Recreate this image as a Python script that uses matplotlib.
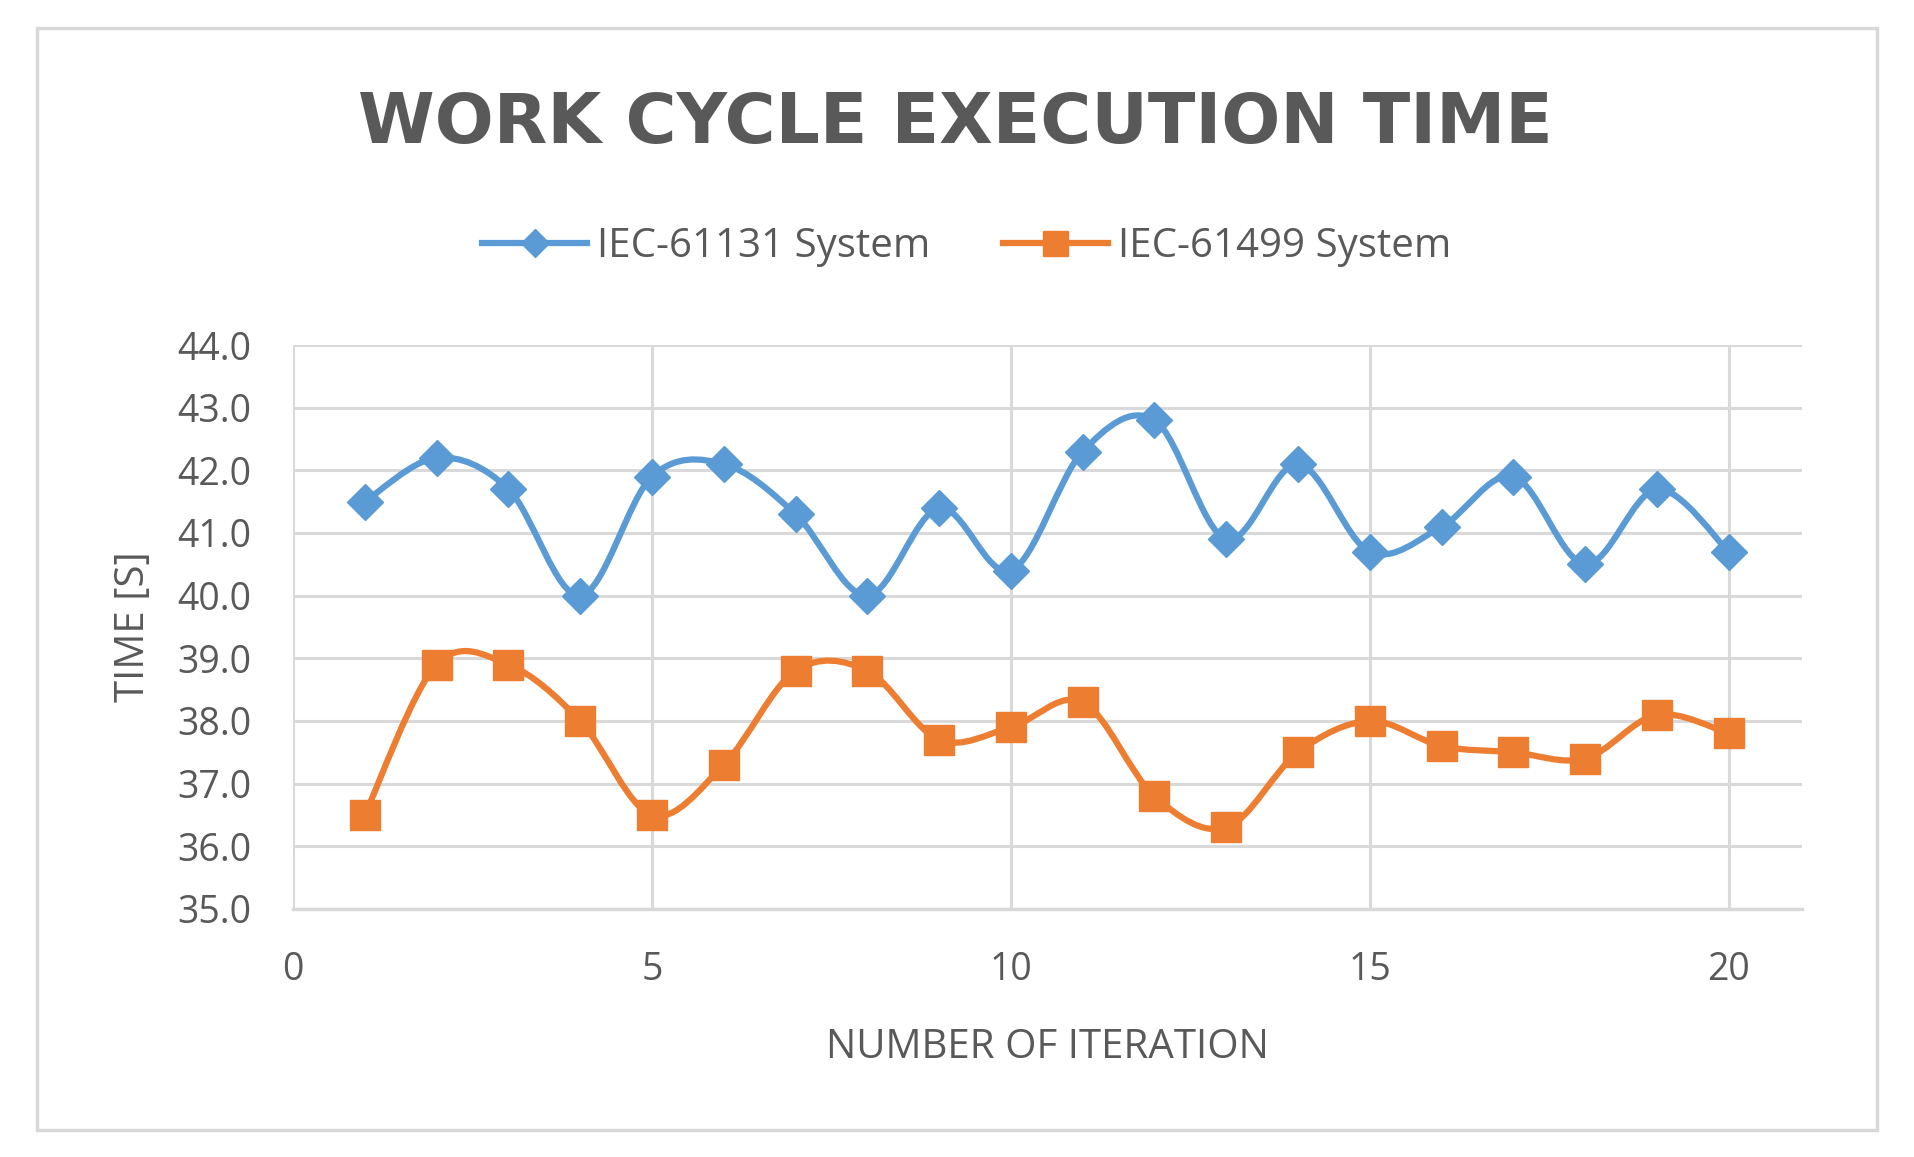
import numpy as np
import matplotlib.pyplot as plt
from matplotlib.path import Path
from matplotlib.patches import PathPatch, Rectangle
from matplotlib.lines import Line2D

iterations = list(range(1, 21))
iec61131 = [41.5, 42.2, 41.7, 40.0, 41.9, 42.1, 41.3, 40.0, 41.4, 40.4,
            42.3, 42.8, 40.9, 42.1, 40.7, 41.1, 41.9, 40.5, 41.7, 40.7]
iec61499 = [36.5, 38.9, 38.9, 38.0, 36.5, 37.3, 38.8, 38.8, 37.7, 37.9,
            38.3, 36.8, 36.3, 37.5, 38.0, 37.6, 37.5, 37.4, 38.1, 37.8]
series_names = ["IEC-61131 System", "IEC-61499 System"]
x_ticks = [0, 5, 10, 15, 20]
y_ticks = [35, 36, 37, 38, 39, 40, 41, 42, 43, 44]

blue = "#5B9BD5"
orange = "#ED7D31"
grid_c = "#D9D9D9"
text_c = "#595959"
font = "Open Sans"


def smooth_path(xs, ys):
    # excel-like smoothed line: cubic bezier through the points (catmull-rom)
    pts = np.column_stack([xs, ys]).astype(float)
    verts = [pts[0]]
    codes = [Path.MOVETO]
    n = len(pts)
    for i in range(n - 1):
        p0 = pts[i - 1] if i > 0 else pts[i]
        p1 = pts[i]
        p2 = pts[i + 1]
        p3 = pts[i + 2] if i + 2 < n else pts[i + 1]
        c1 = p1 + (p2 - p0) / 6.0
        c2 = p2 - (p3 - p1) / 6.0
        verts += [c1, c2, p2]
        codes += [Path.CURVE4] * 3
    return Path(verts, codes)


fig = plt.figure(figsize=(19.14, 11.57), dpi=100)
fig.patches.append(Rectangle((37 / 1914, 1 - 1130 / 1157), 1840 / 1914, 1102 / 1157,
                             transform=fig.transFigure, fill=False,
                             edgecolor=grid_c, linewidth=2.5))

ax = fig.add_axes([0.1531, 0.2144, 0.7884, 0.4874])
ax.set_xlim(0, 21.02)
ax.set_ylim(35, 44)
ax.set_xticks(x_ticks)
ax.set_yticks(y_ticks)
ax.set_yticklabels([f"{v:.1f}" for v in y_ticks])
ax.grid(True, color=grid_c, linewidth=2.2)
ax.set_axisbelow(True)
for s in ["top", "right", "left"]:
    ax.spines[s].set_visible(False)
ax.spines["bottom"].set_color(grid_c)
ax.spines["bottom"].set_linewidth(2.5)
ax.tick_params(length=0, labelsize=27, labelcolor=text_c)
ax.tick_params(axis="y", pad=30)
ax.tick_params(axis="x", pad=30)
for lab in ax.get_xticklabels() + ax.get_yticklabels():
    lab.set_fontfamily(font)

ax.add_patch(PathPatch(smooth_path(iterations, iec61131), fill=False,
                       edgecolor=blue, linewidth=4.5, zorder=3))
ax.plot(iterations, iec61131, linestyle="none", marker="D", markersize=18,
        color=blue, zorder=4)
ax.add_patch(PathPatch(smooth_path(iterations, iec61499), fill=False,
                       edgecolor=orange, linewidth=4.5, zorder=3))
ax.plot(iterations, iec61499, linestyle="none", marker="s", markersize=21,
        color=orange, zorder=4)

ax.set_xlabel("NUMBER OF ITERATION", fontsize=29, color=text_c,
              family=font, labelpad=28)
ax.set_ylabel("TIME [S]", fontsize=29, color=text_c, family=font, labelpad=17)

fig.text(0.499, 1 - 124 / 1157, "WORK CYCLE EXECUTION TIME", ha="center",
         va="center", fontsize=50, fontweight="bold", color=text_c,
         family="DejaVu Sans")

handles = [Line2D([], [], color=blue, linewidth=4.5, marker="D", markersize=14),
           Line2D([], [], color=orange, linewidth=4.5, marker="s", markersize=18)]
leg = fig.legend(handles, series_names, loc="center",
                 bbox_to_anchor=(0.505, 1 - 247 / 1157), ncol=2, frameon=False,
                 prop={"family": font, "size": 29},
                 handlelength=2.6, columnspacing=1.8, handletextpad=0.25)
for t in leg.get_texts():
    t.set_color(text_c)

fig.savefig("out.png", dpi=100)
